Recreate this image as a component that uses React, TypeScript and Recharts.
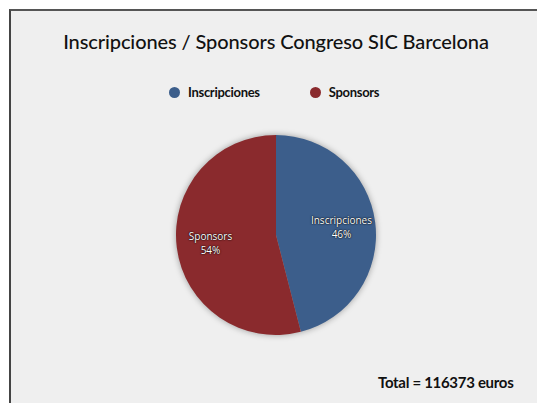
import { PieChart, Pie, Cell } from 'recharts';

const categories = ['Inscripciones', 'Sponsors'];
const shares = [46, 54];
const colors = ['#3c5e8b', '#8a2a2d'];
const totalEuros = 116373;

const data = categories.map((name, i) => ({ name, value: shares[i] }));

const RAD = Math.PI / 180;

function SliceLabel(props: any) {
  const { cx, cy, midAngle, outerRadius, name, percent } = props;
  const r = outerRadius * 0.66;
  const x = cx + r * Math.cos(-midAngle * RAD);
  const y = cy + r * Math.sin(-midAngle * RAD);
  return (
    <text
      x={x}
      y={y}
      textAnchor="middle"
      fill="#ffffff"
      fontSize={10}
      fontFamily="'Open Sans', sans-serif"
      style={{ textShadow: '0 0 2px #000, 0 0 1px #000' }}
    >
      <tspan x={x} dy="-0.3em">{name}</tspan>
      <tspan x={x} dy="1.4em">{`${Math.round(percent * 100)}%`}</tspan>
    </text>
  );
}

export default function App() {
  return (
    <div style={{ position: 'absolute', left: 0, top: 0, width: 537, height: 403, background: '#fff', overflow: 'hidden' }}>
      <style>{`.recharts-pie { filter: drop-shadow(0 0 3px rgba(0,0,0,0.35)); }`}</style>
      <div
        style={{
          position: 'absolute',
          left: 9,
          top: 9,
          width: 540,
          height: 400,
          background: '#efefef',
          borderTop: '2px solid #555',
          borderLeft: '2px solid #444',
        }}
      />
      <div
        style={{
          position: 'absolute',
          left: 10,
          top: 29,
          width: 532,
          textAlign: 'center',
          fontFamily: 'Lato, sans-serif',
          fontSize: 20,
          fontWeight: 500,
          color: '#111',
          letterSpacing: -0.1,
        }}
      >
        Inscripciones / Sponsors Congreso SIC Barcelona
      </div>
      <div
        style={{
          position: 'absolute',
          left: 169,
          top: 84,
          display: 'flex',
          gap: 50,
          fontFamily: 'Lato, sans-serif',
        }}
      >
        {categories.map((c, i) => (
          <div key={c} style={{ display: 'flex', alignItems: 'center', gap: 8 }}>
            <span
              style={{
                width: 11,
                height: 11,
                borderRadius: '50%',
                background: colors[i],
                display: 'inline-block',
              }}
            />
            <span style={{ fontSize: 13, fontWeight: 700, color: '#111', letterSpacing: -0.3 }}>{c}</span>
          </div>
        ))}
      </div>
      <div style={{ position: 'absolute', left: 0, top: 0 }}>
        <PieChart width={537} height={403} margin={{ top: 0, right: 0, bottom: 0, left: 0 }}>
          <Pie
            data={data}
            dataKey="value"
            nameKey="name"
            cx={276}
            cy={235}
            outerRadius={100}
            startAngle={90}
            endAngle={-270}
            stroke="none"
            label={SliceLabel}
            labelLine={false}
            isAnimationActive={false}
          >
            {data.map((d, i) => (
              <Cell key={d.name} fill={colors[i]} />
            ))}
          </Pie>
        </PieChart>
      </div>
      <div
        style={{
          position: 'absolute',
          left: 378,
          top: 373,
          fontFamily: 'Lato, sans-serif',
          fontSize: 15,
          fontWeight: 700,
          color: '#111',
          letterSpacing: -0.3,
        }}
      >
        {`Total = ${totalEuros} euros`}
      </div>
    </div>
  );
}
